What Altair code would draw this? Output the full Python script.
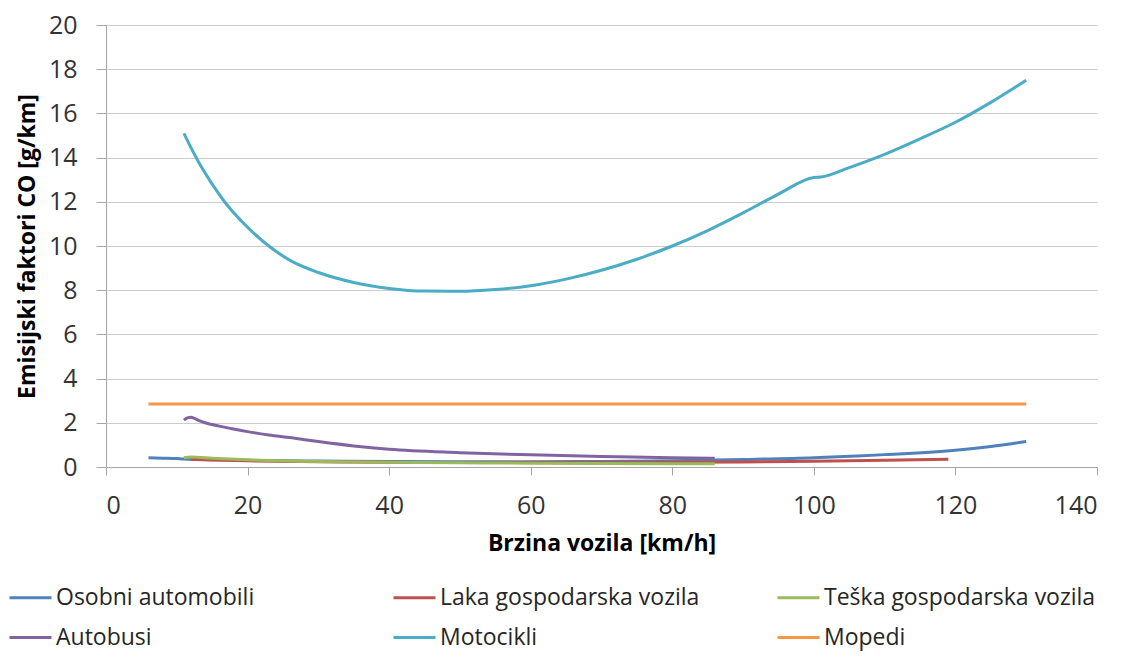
import altair as alt
import pandas as pd

series_names = ["Osobni automobili", "Laka gospodarska vozila", "Teška gospodarska vozila",
                "Autobusi", "Motocikli", "Mopedi"]
colors = ["#4F81BD", "#C0504D", "#9BBB59", "#8064A2", "#4BACC6", "#F79646"]

osobni_x = [6, 8, 10, 11, 15, 20, 30, 40, 50, 60, 70, 80, 90, 100, 106, 110, 120, 125, 130]
osobni_y = [0.42, 0.40, 0.38, 0.36, 0.33, 0.30, 0.27, 0.25, 0.24, 0.24, 0.25, 0.28, 0.34, 0.42, 0.5, 0.56, 0.76, 0.93, 1.15]

laka_x = [12, 15, 20, 30, 40, 50, 60, 70, 80, 90, 100, 110, 119]
laka_y = [0.35, 0.32, 0.28, 0.24, 0.21, 0.20, 0.20, 0.20, 0.21, 0.23, 0.26, 0.30, 0.35]

teska_x = [11, 12, 15, 20, 30, 40, 50, 60, 70, 80, 86]
teska_y = [0.42, 0.45, 0.40, 0.33, 0.25, 0.21, 0.19, 0.17, 0.16, 0.15, 0.15]

autobusi_x = [11, 11.5, 12, 12.5, 13, 14, 16, 18, 20, 23, 26, 30, 35, 40, 50, 60, 70, 80, 86]
autobusi_y = [2.12, 2.22, 2.25, 2.2, 2.12, 2.0, 1.85, 1.72, 1.6, 1.45, 1.33, 1.15, 0.95, 0.8, 0.65, 0.55, 0.48, 0.42, 0.40]

moto_x = [11, 12, 13, 14, 15, 17, 20, 23, 26, 30, 35, 40, 45, 50, 55, 60, 65, 70, 75, 80, 85, 90, 95,
          100, 101, 105, 110, 115, 120, 125, 130]
moto_y = [15.1, 14.45, 13.85, 13.3, 12.8, 11.9, 10.85, 10.0, 9.35, 8.8, 8.35, 8.08, 7.96, 7.95, 8.03, 8.2, 8.5, 8.9, 9.4,
          10.0, 10.7, 11.5, 12.35, 13.1, 13.12, 13.55, 14.15, 14.85, 15.6, 16.5, 17.5]

mopedi_x = [6, 130]
mopedi_y = [2.85, 2.85]

xs = [osobni_x, laka_x, teska_x, autobusi_x, moto_x, mopedi_x]
ys = [osobni_y, laka_y, teska_y, autobusi_y, moto_y, mopedi_y]

rows = []
for i, (name, sx, sy) in enumerate(zip(series_names, xs, ys)):
    for a, b in zip(sx, sy):
        rows.append({"serija": name, "brzina": a, "co": b, "ord": i})
df = pd.DataFrame(rows)

FONT = "Open Sans"

chart = alt.Chart(df).mark_line(strokeWidth=3, interpolate="monotone").encode(
    x=alt.X("brzina:Q", title="Brzina vozila [km/h]",
            scale=alt.Scale(domain=[0, 140], nice=False),
            axis=alt.Axis(values=[0, 20, 40, 60, 80, 100, 120, 140], grid=False,
                          tickSize=8, labelPadding=18, titlePadding=14)),
    y=alt.Y("co:Q", title="Emisijski faktori CO [g/km]",
            scale=alt.Scale(domain=[0, 20], nice=False),
            axis=alt.Axis(values=list(range(0, 21, 2)), grid=True,
                          tickSize=10, labelPadding=19, titlePadding=9)),
    color=alt.Color("serija:N", scale=alt.Scale(domain=series_names, range=colors),
                    sort=series_names,
                    legend=alt.Legend(title=None, orient="none", legendX=-98, legendY=550,
                                      columns=3, direction="horizontal",
                                      symbolType="stroke", symbolSize=1764,
                                      symbolStrokeWidth=3, labelFontSize=23,
                                      labelFont=FONT, labelColor="#262626",
                                      columnPadding=59, rowPadding=5, labelOffset=3,
                                      gridAlign="all", labelLimit=400)),
    order=alt.Order("ord:Q"),
    detail="serija:N",
).properties(
    width=991, height=442,
    autosize=alt.AutoSizeParams(type="none"),
    padding={"left": 98, "top": 17, "right": 17, "bottom": 186},
).configure_view(stroke=None).configure_axis(
    labelFont=FONT, titleFont=FONT, labelFontSize=25, titleFontSize=23,
    labelColor="#333333", titleColor="#000000", titleFontWeight="bold",
    domainColor="#a6a6a6", tickColor="#a6a6a6", gridColor="#cccccc",
    gridWidth=1, domainWidth=1,
)

chart.save("out.html", embed_options={"renderer": "svg", "actions": False})
